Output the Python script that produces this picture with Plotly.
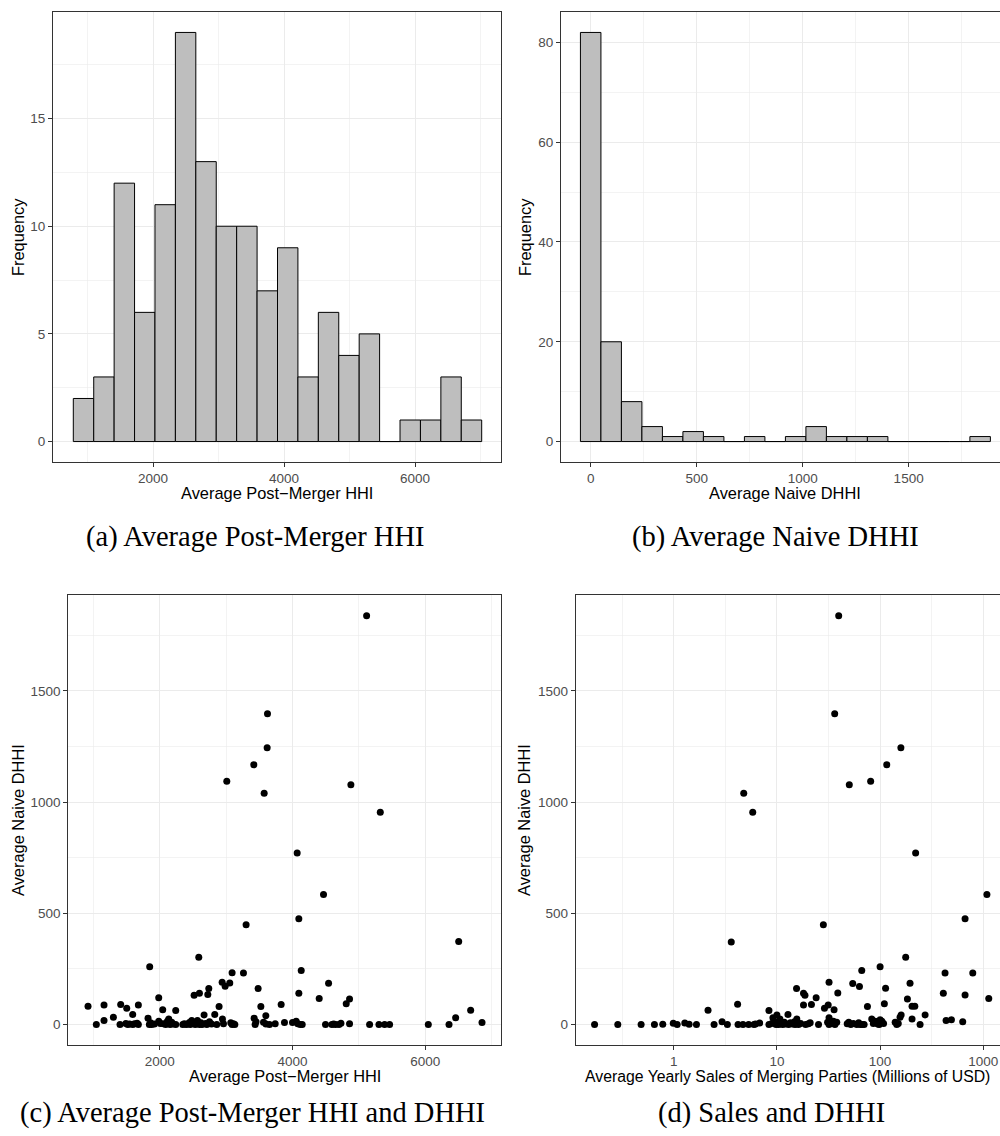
import numpy as np
import plotly.graph_objects as go

W, H = 1000, 1136

# ---------------- data ----------------
# (a) histogram: Average Post-Merger HHI (20 bins)
hhi_bin_start = 783.0
hhi_bin_width = 311.75
hhi_counts = [2, 3, 12, 6, 11, 19, 13, 10, 10, 7, 9, 3, 6, 4, 5, 0, 1, 1, 3, 1]

# (b) histogram: Average Naive DHHI (20 bins)
dhhi_bin_start = -48.35
dhhi_bin_width = 96.7
dhhi_counts = [82, 20, 8, 3, 1, 2, 1, 0, 1, 0, 1, 3, 1, 1, 1, 0, 0, 0, 0, 1]

# (c) scatter: Average Post-Merger HHI vs Average Naive DHHI
c_hhi = [5116, 3623, 3618, 3417, 3010, 3573, 4879, 5322, 4070, 4467, 4095, 3301, 6503, 2588, 1849, 4131,
         3090, 3261, 2940, 2985, 3055, 2739, 3482, 4543,
         920, 1161, 1412, 1503, 1678, 1985, 2045, 2241, 2518, 2598, 2724, 2894, 3523, 3829, 4095, 4402,
         4809, 4859, 6683,
         1045, 1161, 1302, 1402, 1518, 1593, 1593, 1678, 1824, 1844, 1879, 1985, 2055, 2116, 2136, 2156,
         2241, 2347, 2397, 2447, 2482, 2533, 2568, 2598, 2638, 2668, 2709, 2749, 2829, 2859, 2945, 3090,
         3131, 3422, 3437, 3563, 3598, 3653, 3739,
         3879, 4000, 4055, 4116, 4146, 4497, 4593, 4648, 4729, 4859, 5161, 5302, 5387, 5462, 6045, 6357,
         6457, 6854,
         1490, 1545, 1620, 1660, 1862, 1920, 2010, 2090, 2180, 2200, 2370, 2420, 2460, 2500, 2555, 2620,
         2690, 2780, 2960, 3070, 3110, 3450, 3600, 4080, 4620, 4700]
c_dhhi = [1837, 1397, 1244, 1168, 1093, 1039, 1078, 954, 771, 584, 476, 449, 373, 302, 260, 243,
          233, 232, 190, 172, 187, 162, 162, 186,
          82, 88, 90, 73, 88, 120, 66, 63, 132, 141, 135, 81, 81, 90, 141, 117,
          93, 115, 64,
          0, 18, 33, 0, 0, 45, 0, 0, 28, 0, 0, 15, 3, 15, 25, 0,
          0, 0, 0, 9, 18, 0, 18, 0, 0, 43, 0, 12, 45, 0, 25, 0,
          0, 28, 0, 10, 40, 0, 3,
          9, 9, 15, 0, 0, 0, 0, 0, 6, 3, 0, 0, 0, 0, 0, 0,
          30, 9,
          5, 2, 3, 6, 8, 2, 5, 0, 10, 2, 4, 2, 0, 6, 4, 8,
          5, 2, 3, 8, 4, 12, 2, 3, 2, 0]

# (d) scatter: Average Yearly Sales (millions USD) vs Average Naive DHHI
d_sales = [39.7, 36.3, 159, 116, 81, 50.3, 4.77, 5.83, 221, 1084, 666, 28.2, 3.61, 177, 100, 66.4,
           426, 791, 32, 195, 54.3, 63.1, 113, 15.5,
           18.1, 18.7, 18.1, 21.6, 24, 28.9, 31.4, 35.8, 38.9, 75.4, 110, 184, 204, 217, 410, 666,
           1130, 2.15, 4.16, 8.37,
           0.171, 0.287, 0.483, 0.65, 0.783, 0.99, 1.08, 1.28, 1.41, 1.66, 2.46, 2.94, 3.31, 4.2, 4.69,
           5.32, 5.99, 6.8, 8.37, 9.15, 10, 10.4, 10.7, 11.4, 12.8,
           15.6, 16.2, 20.2, 25.3, 32, 32, 35.3, 38, 49.7, 59.4, 64, 67, 70, 83, 89.5, 92.8, 100, 104,
           145, 156, 160, 204, 244, 273, 436, 491, 632,
           8.9, 9.5, 9.8, 10.2, 10.9, 11.8, 12.2, 13.0, 13.5, 14.2, 14.8, 15.0, 17.0, 19.0, 21.0, 31.0,
           33.5, 36.5, 48.0, 52.0, 55.0, 62.0, 86.0, 95.0, 98.0, 108.0, 140.0, 150.0, 6.2]
d_dhhi = [1837, 1397, 1244, 1168, 1093, 1078, 1039, 954, 771, 585, 475, 449, 371, 302, 260, 243,
          232, 232, 190, 186, 184, 171, 163, 162,
          141, 132, 88, 90, 120, 73, 88, 66, 142, 81, 93, 115, 82, 82, 141, 133,
          117, 64, 91, 63,
          0, 0, 0, 0, 1, 6, 0, 7, 1, 0, 0, 13, 0, 0, 0,
          0, 0, 7, 0, 30, 43, 0, 25, 0, 45,
          25, 0, 3, 0, 30, 0, 15, 10, 10, 0, 0, 0, 0, 25, 15, 10, 22, 15,
          0, 33, 43, 25, 0, 43, 18, 21, 12,
          5, 12, 0, 8, 3, 10, 2, 0, 8, 2, 12, 0, 5, 0, 8, 10,
          5, 0, 3, 0, 5, 8, 5, 2, 0, 5, 10, 5, 2]

# ---------------- helpers ----------------
def px(x):
    return x / W

def py(y):
    return 1 - y / H

SANS = "Liberation Sans, Arial, Helvetica, sans-serif"
SERIF = "Liberation Serif, Times New Roman, serif"
GRID = "#EBEBEB"
LINE = "#333333"


def axis(domain, rng, tickvals, minor_vals, mirror=True, log=False, ticktext=None):
    d = dict(domain=domain, range=rng, showline=True, linecolor=LINE, linewidth=1,
             mirror=mirror, ticks="outside", ticklen=4, tickwidth=1, tickcolor=LINE,
             showgrid=True, gridcolor=GRID, gridwidth=1, zeroline=False,
             tickmode="array", tickvals=tickvals,
             tickfont=dict(family=SANS, size=13.5, color="#4D4D4D"),
             minor=dict(tickmode="array", tickvals=minor_vals, showgrid=True,
                        gridcolor=GRID, gridwidth=0.6, ticks=""),
             fixedrange=True)
    if ticktext is not None:
        d["ticktext"] = ticktext
    if log:
        d["type"] = "log"
    return d


fig = go.Figure()

# (a) histogram
a_centers = hhi_bin_start + hhi_bin_width * (np.arange(len(hhi_counts)) + 0.5)
fig.add_trace(go.Bar(x=a_centers, y=hhi_counts, width=hhi_bin_width,
                     marker=dict(color="#BEBEBE", line=dict(color="black", width=1)),
                     xaxis="x", yaxis="y"))

# (b) histogram
b_centers = dhhi_bin_start + dhhi_bin_width * (np.arange(len(dhhi_counts)) + 0.5)
fig.add_trace(go.Bar(x=b_centers, y=dhhi_counts, width=dhhi_bin_width,
                     marker=dict(color="#BEBEBE", line=dict(color="black", width=1)),
                     xaxis="x2", yaxis="y2"))

# (c) scatter
fig.add_trace(go.Scatter(x=c_hhi, y=c_dhhi, mode="markers",
                         marker=dict(color="black", size=7, line=dict(width=0)),
                         xaxis="x3", yaxis="y3"))

# (d) scatter
fig.add_trace(go.Scatter(x=d_sales, y=d_dhhi, mode="markers",
                         marker=dict(color="black", size=7, line=dict(width=0)),
                         xaxis="x4", yaxis="y4"))

top_dom = [py(462), py(12)]
bot_dom = [py(1045), py(594.7)]

layout = dict(
    width=W, height=H, margin=dict(l=0, r=0, t=0, b=0),
    paper_bgcolor="white", plot_bgcolor="white", showlegend=False, bargap=0,
    xaxis=axis([px(53), px(500.5)], [473, 7305], [2000, 4000, 6000], [1000, 3000, 5000, 7000]),
    yaxis=axis(top_dom, [-0.95, 19.95], [0, 5, 10, 15], [2.5, 7.5, 12.5, 17.5]),
    xaxis2=axis([px(561), 1.0], [-140, 1931], [0, 500, 1000, 1500], [250, 750, 1250, 1750]),
    yaxis2=axis(top_dom, [-4.1, 86.1], [0, 20, 40, 60, 80], [10, 30, 50, 70], mirror=False),
    xaxis3=axis([px(68.3), px(501)], [623, 7140], [2000, 4000, 6000], [1000, 3000, 5000, 7000]),
    yaxis3=axis(bot_dom, [-92, 1932], [0, 500, 1000, 1500], [250, 750, 1250, 1750]),
    xaxis4=axis([px(575.7), 1.0], [-0.95, 3.162], [1, 10, 100, 1000],
                [10 ** -0.5, 10 ** 0.5, 10 ** 1.5, 10 ** 2.5], log=True,
                ticktext=["1", "10", "100", "1000"]),
    yaxis4=axis(bot_dom, [-92, 1932], [0, 500, 1000, 1500], [250, 750, 1250, 1750], mirror=False),
)
layout["xaxis"]["anchor"] = "y"
layout["yaxis"]["anchor"] = "x"
layout["xaxis2"]["anchor"] = "y2"
layout["yaxis2"]["anchor"] = "x2"
layout["xaxis3"]["anchor"] = "y3"
layout["yaxis3"]["anchor"] = "x3"
layout["xaxis4"]["anchor"] = "y4"
layout["yaxis4"]["anchor"] = "x4"

fig.update_layout(**layout)


def ann(text, x, y, size, family, angle=0, color="black"):
    fig.add_annotation(text=text, x=px(x), y=py(y), xref="paper", yref="paper",
                       showarrow=False, xanchor="center", yanchor="middle",
                       textangle=angle, font=dict(family=family, size=size, color=color))


# axis titles
ann("Average Post\u2212Merger HHI", 276.75, 493, 16.4, SANS)
ann("Average Naive DHHI", 784.8, 493, 16.4, SANS)
ann("Average Post\u2212Merger HHI", 284.7, 1076, 16.4, SANS)
ann("Average Yearly Sales of Merging Parties (Millions of USD)", 787, 1076, 15.8, SANS)
ann("Frequency", 18, 237, 16.4, SANS, angle=-90)
ann("Frequency", 525, 237, 16.4, SANS, angle=-90)
ann("Average Naive DHHI", 18, 820, 16.4, SANS, angle=-90)
ann("Average Naive DHHI", 524, 820, 16.4, SANS, angle=-90)

# sub-captions
ann("(a) Average Post-Merger HHI", 255, 537, 28.5, SERIF)
ann("(b) Average Naive DHHI", 775, 537, 28.5, SERIF)
ann("(c) Average Post-Merger HHI and DHHI", 252, 1113, 28.5, SERIF)
ann("(d) Sales and DHHI", 771, 1113, 28.5, SERIF)

fig.write_html("out.html", config=dict(displayModeBar=False, staticPlot=True))
